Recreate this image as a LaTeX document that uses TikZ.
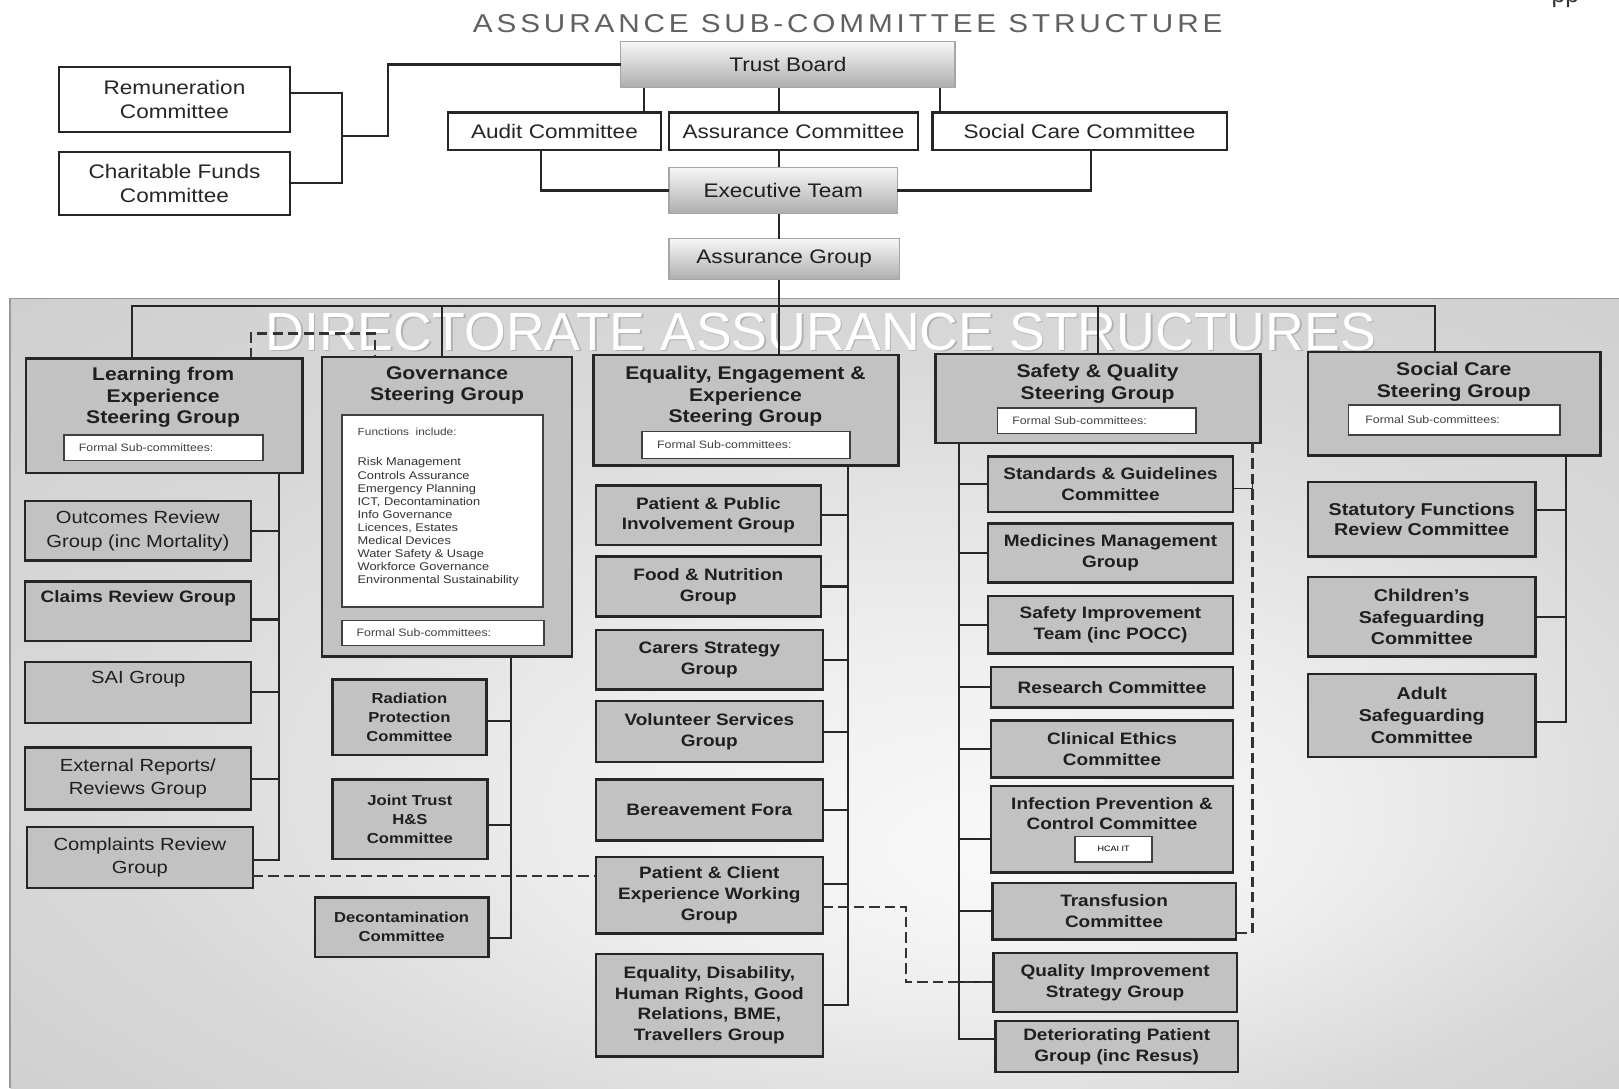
\documentclass[tikz,border=0pt]{standalone}
\usepackage{fontspec}
\setmainfont{Liberation Sans}[FakeStretch=1.15]
\newfontfamily\plainfont{Liberation Sans}
\usetikzlibrary{calc}
\pgfdeclareradialshading{panelsh}{\pgfpoint{7bp}{-11bp}}{color(0bp)=(black!2); color(12bp)=(black!7); color(25bp)=(black!15); color(40bp)=(black!20)}
\newcommand\mytop{\fontsize{9.5}{11.5}\selectfont}
\newcommand\myhead{\fontsize{8.9}{10.5}\selectfont\bfseries}
\newcommand\mykid{\fontsize{8}{10}\selectfont\bfseries}
\newcommand\mykidr{\fontsize{8.5}{11.5}\selectfont}
\newcommand\mysmall{\fontsize{7}{9.2}\selectfont\bfseries}
\newcommand\myfunc{\fontsize{5.4}{6.35}\selectfont}
\newcommand\myform{\fontsize{5.2}{6}\selectfont}
\newcommand\bx[7]{\node[#6, minimum width={(#4-#2)*0.5pt}, minimum height={(#5-#3)*0.5pt}] (#1) at ({(#2+#4)/2},{(#3+#5)/2}) {#7};}
\begin{document}
\begin{tikzpicture}[x=0.5pt,y=-0.5pt,
  conn/.style={draw=black!85, line width=1pt},
  dconn/.style={draw=black!80, line width=1pt, dash pattern=on 5pt off 2.5pt},
  wbox/.style={draw=black!85, line width=1.1pt, fill=white, inner sep=0pt, outer sep=0pt, align=center, text=black!85, font=\mytop},
  hbox/.style={draw=black!35, line width=0.6pt, top color=black!3, bottom color=black!32, inner sep=0pt, outer sep=0pt, align=center, text=black!88, font=\mytop},
  gbox/.style={draw=black!85, line width=1.2pt, fill=black!24, inner sep=0pt, outer sep=0pt, align=center, text=black!88, font=\mykid},
  rbox/.style={gbox, font=\mykidr},
  sbox/.style={gbox, font=\mysmall},
  fbox/.style={draw=black!75, line width=0.8pt, fill=white, inner sep=0pt, outer sep=0pt},
  htext/.style={align=center, text=black!88, font=\myhead, inner sep=0pt},
  ftext/.style={anchor=west, text=black!75, font=\myform, inner sep=0pt}]
\useasboundingbox (0,0) rectangle (1568,1054);
\fill[white] (0,0) rectangle (1568,1054);
% panel
\path[shading=panelsh] (10,289) rectangle (1568,1054);
\draw[black!40, line width=0.8pt] (10,1054) -- (10,289) -- (1568,289);
\node[anchor=base, text=black!30, font=\plainfont\fontsize{26}{26}\selectfont, inner sep=0pt] (wms) at (796.5,340.5) {DIRECTORATE ASSURANCE STRUCTURES};
\node[anchor=base, text=white, font=\plainfont\fontsize{26}{26}\selectfont, inner sep=0pt] (wm) at (795,339) {DIRECTORATE ASSURANCE STRUCTURES};
% title
\node[anchor=base, text=black!62, font=\fontsize{12.5}{12.5}\selectfont\addfontfeatures{LetterSpace=15}, inner sep=0pt] (title) at (821,31) {ASSURANCE SUB-COMMITTEE STRUCTURE};
\node[anchor=base, text=black!80, font=\plainfont\fontsize{12}{12}\selectfont, inner sep=0pt] (pp) at (1516,2) {pp};
% top boxes
\bx{rem}{57}{65}{281}{128}{wbox}{Remuneration\\Committee}
\bx{char}{57}{147}{281}{208}{wbox}{Charitable Funds\\Committee}
\bx{tb}{601}{40}{925}{85}{hbox}{Trust Board}
\bx{audit}{434}{109}{640}{145}{wbox}{Audit Committee}
\bx{assc}{648}{109}{889}{145}{wbox}{Assurance Committee}
\bx{scc}{903}{109}{1188}{145}{wbox}{Social Care Committee}
\bx{exec}{648}{162}{869}{207}{hbox}{Executive Team}
\bx{ag}{648}{231}{871}{271}{hbox}{Assurance Group}
% top connectors
\coordinate (j1) at (331,132); \coordinate (j2) at (376,132);
\draw[conn] ([yshift=3pt]rem.east) -- ([yshift=3pt]rem.east -| j1) -- (char.east -| j1) -- (char.east);
\draw[conn] (j1) -- (j2) |- (tb.west);
\coordinate (tA) at (624,0); \coordinate (tM) at (754,0); \coordinate (tS) at (910,0);
\coordinate (tAu) at (524,0); \coordinate (tSc) at (1057,0);
\draw[conn] (tb.south -| tA) -- (audit.north -| tA);
\draw[conn] (tb.south -| tM) -- (assc.north -| tM);
\draw[conn] (assc.south -| tM) -- (exec.north -| tM);
\draw[conn] (exec.south -| tM) -- (ag.north -| tM);
\draw[conn] (tb.south -| tS) -- (scc.north -| tS);
\draw[conn] (audit.south -| tAu) |- (exec.west);
\draw[conn] (scc.south -| tSc) |- (exec.east);
% steering groups
\bx{lfe}{25}{347}{293}{458}{gbox}{}
\node[htext] (lfeT) at (158,385) {Learning from\\Experience\\Steering Group};
\bx{lfeF}{62}{421}{255}{446}{fbox}{}
\node[ftext] (lfeFT) at (76,433.5) {Formal Sub-committees:};
\bx{gov}{312}{346}{554}{636}{gbox}{}
\node[htext] (govT) at (433,373.5) {Governance\\Steering Group};
\bx{govI}{331}{402}{526}{588}{fbox}{}
\node[ftext, font=\fontsize{5}{6}\selectfont] (govIT) at (346,418) {Functions~~include:};
\node[anchor=north west, align=left, font=\myfunc, text=black!80, inner sep=0pt] (govL) at (346,443) {Risk Management\\Controls Assurance\\Emergency Planning\\ICT, Decontamination\\Info Governance\\Licences, Estates\\Medical Devices\\Water Safety \& Usage\\Workforce Governance\\Environmental Sustainability};
\bx{govF}{331}{601}{527}{625}{fbox}{}
\node[ftext] (govFT) at (345,613) {Formal Sub-committees:};
\bx{eesg}{575}{344}{870}{451}{gbox}{}
\node[htext] (eesgT) at (722,384) {Equality, Engagement \&\\Experience\\Steering Group};
\bx{eesgF}{622}{418}{823}{444}{fbox}{}
\node[ftext] (eesgFT) at (636,431) {Formal Sub-committees:};
\bx{sqsg}{906}{343}{1221}{429}{gbox}{}
\node[htext] (sqsgT) at (1063,371.5) {Safety \& Quality\\Steering Group};
\bx{sqsgF}{966}{395}{1158}{420}{fbox}{}
\node[ftext] (sqsgFT) at (980,407.5) {Formal Sub-committees:};
\bx{scsg}{1267}{341}{1550}{441}{gbox}{}
\node[htext] (scsgT) at (1408,369.5) {Social Care\\Steering Group};
\bx{scsgF}{1306}{392}{1511}{421}{fbox}{}
\node[ftext] (scsgFT) at (1322,406.5) {Formal Sub-committees:};
% learning children
\bx{outc}{24}{485}{243}{543}{rbox}{Outcomes Review\\Group (inc Mortality)}
\bx{claims}{24}{563}{243}{621}{gbox}{}
\node[font=\mykid, text=black!88, inner sep=0pt] (claimsT) at (134,579) {Claims Review Group};
\bx{sai}{24}{641}{243}{700}{gbox}{}
\node[font=\mykidr, text=black!88, inner sep=0pt] (saiT) at (134,658) {SAI Group};
\bx{ext}{24}{724}{243}{784}{rbox}{External Reports/\\Reviews Group}
\bx{compl}{26}{801}{245}{860}{rbox}{Complaints Review\\Group}
\coordinate (bL) at (270,0);
\draw[conn] (lfe.south -| bL) -- ([yshift=-1.25pt]compl.east -| bL) -- ([yshift=-1.25pt]compl.east);
\foreach \n in {outc,sai,ext} \draw[conn] (\n.east) -- (\n.east -| bL);
\draw[conn] ([yshift=-4pt]claims.east) -- ([yshift=-4pt]claims.east -| bL);
% governance children
\bx{rad}{322}{658}{471}{731}{sbox}{Radiation\\Protection\\Committee}
\bx{joint}{322}{755}{472}{832}{sbox}{Joint Trust\\H\&S\\Committee}
\bx{decon}{305}{869}{473}{927}{sbox}{Decontamination\\Committee}
\coordinate (bG) at (495,0);
\draw[conn] (gov.south -| bG) -- ([yshift=-5pt]decon.east -| bG) -- ([yshift=-5pt]decon.east);
\draw[conn] ([yshift=-1.75pt]rad.east) -- ([yshift=-1.75pt]rad.east -| bG);
\draw[conn] ([yshift=-2.75pt]joint.east) -- ([yshift=-2.75pt]joint.east -| bG);
% equality children
\bx{ppi}{577}{470}{795}{528}{gbox}{Patient \& Public\\Involvement Group}
\bx{food}{577}{539}{795}{597}{gbox}{Food \& Nutrition\\Group}
\bx{carers}{577}{610}{797}{668}{gbox}{Carers Strategy\\Group}
\bx{vol}{577}{679}{797}{738}{gbox}{Volunteer Services\\Group}
\bx{ber}{577}{755}{797}{814}{gbox}{Bereavement Fora}
\bx{pcx}{577}{830}{797}{904}{gbox}{Patient \& Client\\Experience Working\\Group}
\bx{edis}{577}{924}{797}{1023}{gbox}{Equality, Disability,\\Human Rights, Good\\Relations, BME,\\Travellers Group}
\coordinate (bE) at (821,0);
\draw[conn] (eesg.south -| bE) -- (edis.east -| bE) -- (edis.east);
\foreach \n in {ppi,food,carers,vol,ber} \draw[conn] (\n.east) -- (\n.east -| bE);
\draw[conn] ([yshift=5.5pt]pcx.east) -- ([yshift=5.5pt]pcx.east -| bE);
% safety children
\bx{std}{957}{442}{1194}{496}{gbox}{Standards \& Guidelines\\Committee}
\bx{med}{957}{507}{1194}{564}{gbox}{Medicines Management\\Group}
\bx{sit}{957}{577}{1194}{633}{gbox}{Safety Improvement\\Team (inc POCC)}
\bx{res}{960}{646}{1194}{685}{gbox}{Research Committee}
\bx{eth}{960}{698}{1194}{753}{gbox}{Clinical Ethics\\Committee}
\bx{ipc}{960}{761}{1194}{845}{gbox}{}
\node[align=center, font=\mykid, text=black!88, inner sep=0pt] (ipcT) at (1077,788) {Infection Prevention \&\\Control Committee};
\bx{hcai}{1041}{810}{1116}{835}{fbox, font=\fontsize{3.8}{4}\selectfont}{HCAI IT}
\bx{trans}{961}{855}{1197}{910}{gbox}{Transfusion\\Committee}
\bx{qis}{962}{923}{1198}{980}{gbox}{Quality Improvement\\Strategy Group}
\bx{det}{964}{989}{1199}{1038}{gbox}{Deteriorating Patient\\Group (inc Resus)}
\coordinate (bS) at (929,0);
\draw[conn] (sqsg.south -| bS) -- ([yshift=3.75pt]det.west -| bS) -- ([yshift=3.75pt]det.west);
\foreach \n in {std,med,sit,res,eth,trans,qis} \draw[conn] (\n.west -| bS) -- (\n.west);
\draw[conn] ([yshift=-5pt]ipc.west -| bS) -- ([yshift=-5pt]ipc.west);
% social care children
\bx{stat}{1267}{467}{1487}{539}{gbox, font=\fontsize{8.3}{9.5}\selectfont\bfseries}{Statutory Functions\\Review Committee}
\bx{child}{1267}{559}{1487}{636}{gbox, font=\fontsize{8.3}{10.5}\selectfont\bfseries}{Children's\\Safeguarding\\Committee}
\bx{adult}{1267}{653}{1487}{733}{gbox, font=\fontsize{8.3}{10.5}\selectfont\bfseries}{Adult\\Safeguarding\\Committee}
\coordinate (bC) at (1517,0);
\draw[conn] (scsg.south -| bC) -- ([yshift=-3pt]adult.east -| bC) -- ([yshift=-3pt]adult.east);
\draw[conn] ([yshift=4.5pt]stat.east) -- ([yshift=4.5pt]stat.east -| bC);
\draw[conn] (child.east) -- (child.east -| bC);
% main bus
\coordinate (xA) at (128,296); \coordinate (xG) at (428,296); \coordinate (xE) at (754,296);
\coordinate (xS) at (1063,296); \coordinate (xC) at (1390,296);
\draw[conn] (lfe.north -| xA) -- (xA) -- (xC) -- (scsg.north -| xC);
\draw[conn] (xG) -- (gov.north -| xG);
\draw[conn] (ag.south -| xE) -- (eesg.north -| xE);
\draw[conn] (xS) -- (sqsg.north -| xS);
% dashed links
\coordinate (dl) at (243,323); \coordinate (dg) at (363,323);
\draw[dconn] (lfe.north -| dl) -- (dl) -- (dg) -- (gov.north -| dg);
\draw[dconn] ([yshift=-9pt]compl.east) -- ([yshift=-9pt]compl.east -| pcx.west);
\coordinate (dq) at (877,0);
\draw[dconn] ([yshift=-5.5pt]pcx.east) -| (qis.west -| dq) -- (qis.west);
\coordinate (dr) at (1213,904);
\draw[dconn] (sqsg.south -| dr) -- (dr) -- (dr -| trans.east);
\draw[conn, line width=0.8pt] ([yshift=-2pt]std.east) -- ([yshift=-2pt]std.east -| dr) -- ++(0,-6);
\end{tikzpicture}
\end{document}
